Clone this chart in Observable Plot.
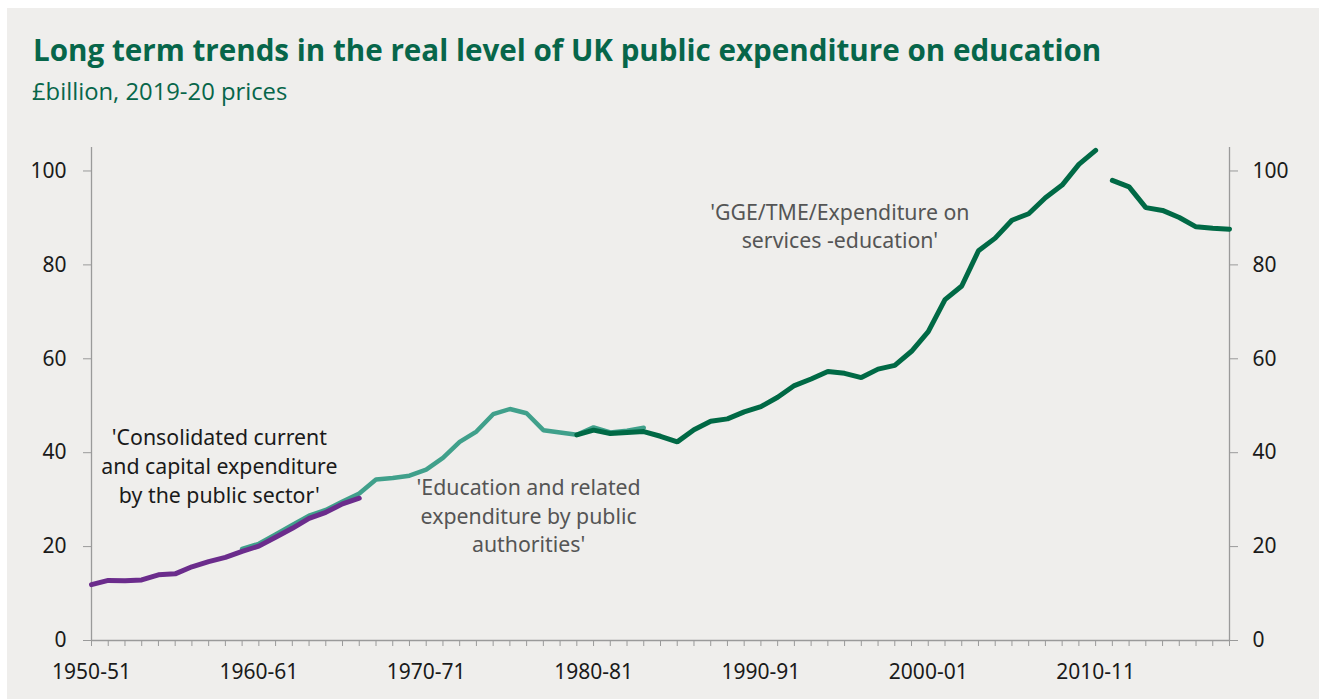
<!DOCTYPE html>
<html>
<head>
<meta charset="utf-8">
<script src="https://cdn.jsdelivr.net/npm/d3@7"></script>
<script src="https://cdn.jsdelivr.net/npm/@observablehq/plot@0.6"></script>
<style>
  html, body { margin: 0; padding: 0; background: #ffffff; width: 1319px; height: 699px; overflow: hidden; }
  #panel { position: absolute; left: 7px; top: 8px; width: 1312px; height: 691px; background: #efeeec; }
  #title { position: absolute; left: 33px; top: 29px; margin: 0; font-family: "Open Sans", sans-serif; font-weight: 700; font-size: 29.6px; color: #07664a; white-space: nowrap; }
  #subtitle { position: absolute; left: 32px; top: 75px; margin: 0; font-family: "Open Sans", sans-serif; font-weight: 400; font-size: 23.8px; color: #07664a; white-space: nowrap; }
  #chart { position: absolute; left: 0; top: 130px; }
</style>
</head>
<body>
<div id="panel"></div>
<div id="title">Long term trends in the real level of UK public expenditure on education</div>
<div id="subtitle">£billion, 2019-20 prices</div>
<div id="chart"></div>
<script>
// Categories (financial years)
const years = [
  "1950-51","1951-52","1952-53","1953-54","1954-55","1955-56","1956-57","1957-58","1958-59","1959-60",
  "1960-61","1961-62","1962-63","1963-64","1964-65","1965-66","1966-67","1967-68","1968-69","1969-70",
  "1970-71","1971-72","1972-73","1973-74","1974-75","1975-76","1976-77","1977-78","1978-79","1979-80",
  "1980-81","1981-82","1982-83","1983-84","1984-85","1985-86","1986-87","1987-88","1988-89","1989-90",
  "1990-91","1991-92","1992-93","1993-94","1994-95","1995-96","1996-97","1997-98","1998-99","1999-00",
  "2000-01","2001-02","2002-03","2003-04","2004-05","2005-06","2006-07","2007-08","2008-09","2009-10",
  "2010-11","2011-12","2012-13","2013-14","2014-15","2015-16","2016-17","2017-18","2018-19"
];
const tickLabels = ["1950-51","1960-61","1970-71","1980-81","1990-91","2000-01","2010-11"];
const yTicks = [0, 20, 40, 60, 80, 100];

// 'Consolidated current and capital expenditure by the public sector' (1950-51 to 1966-67)
const consolidatedYears = years.slice(0, 17);
const consolidated = [11.9,12.8,12.7,12.9,14.0,14.2,15.7,16.8,17.7,19.0,20.1,22.0,23.9,26.0,27.3,29.1,30.3];

// 'Education and related expenditure by public authorities' (1959-60 to 1983-84)
const educationYears = years.slice(9, 34);
const education = [19.5,20.6,22.6,24.6,26.6,27.8,29.6,31.3,34.3,34.6,35.1,36.4,38.9,42.3,44.5,48.2,49.3,48.4,44.8,44.3,43.8,45.4,44.3,44.7,45.3];

// 'GGE/TME/Expenditure on services -education' (1979-80 to 2010-11, then 2011-12 to 2018-19)
const ggeYearsA = years.slice(29, 61);
const ggeA = [43.8,44.8,44.1,44.3,44.5,43.5,42.3,44.9,46.7,47.2,48.7,49.8,51.8,54.3,55.7,57.3,56.9,56.0,57.8,58.6,61.6,65.8,72.6,75.5,83.0,85.7,89.5,90.9,94.3,97.0,101.4,104.4];
const ggeYearsB = years.slice(61, 69);
const ggeB = [98.0,96.6,92.2,91.6,90.1,88.1,87.8,87.6];

// Annotation labels
const annoText = [
  "'Consolidated current\nand capital expenditure\nby the public sector'",
  "'Education and related\nexpenditure by public\nauthorities'",
  "'GGE/TME/Expenditure on\nservices -education'"
];
const annoYear = ["1958-59", "1976-77", "1994-95"];
const annoValue = [37.4, 26.8, 88.5];

const toRows = (ys, vs) => ys.map((y, i) => ({year: y, value: vs[i]}));
const rowsCons = toRows(consolidatedYears, consolidated);
const rowsEdu = toRows(educationYears, education);
const rowsA = toRows(ggeYearsA, ggeA);
const rowsB = toRows(ggeYearsB, ggeB);
const annos = annoText.map((t, i) => ({text: t, year: annoYear[i], value: annoValue[i]}));

const axisColor = "#9a9a9a";
const first = years[0], last = years[years.length - 1];
const annoStyle = { x: "year", y: "value", text: "text", fontSize: 21.3, lineHeight: 1.34, textAnchor: "middle" };

const chart = Plot.plot({
  width: 1319,
  height: 569,
  marginTop: 17,
  marginBottom: 59,
  marginLeft: 91,
  marginRight: 90,
  style: { background: "transparent", fontFamily: "'Noto Sans', 'Open Sans', sans-serif", overflow: "visible" },
  x: { type: "point", domain: years, padding: 0 },
  y: { domain: [0, 105] },
  marks: [
    // axis lines
    Plot.ruleY([0], { stroke: axisColor, strokeWidth: 1.3 }),
    Plot.ruleX([first], { y1: 0, y2: 105, stroke: axisColor, strokeWidth: 1.3 }),
    Plot.ruleX([last], { y1: 0, y2: 105, stroke: axisColor, strokeWidth: 1.3 }),
    // x axis: yearly ticks, labels every decade
    Plot.axisX({
      ticks: years, tickSize: 6, tickPadding: 18, stroke: axisColor,
      tickFormat: d => tickLabels.includes(d) ? d : "",
      fontSize: 21, fill: "#1a1a1a", label: null
    }),
    // y axes
    Plot.axisY({ anchor: "left", ticks: yTicks, tickSize: 8, tickPadding: 17, stroke: axisColor, fontSize: 21, fill: "#1a1a1a", label: null }),
    Plot.axisY({ anchor: "right", ticks: yTicks, tickSize: 8, tickPadding: 15, stroke: axisColor, fontSize: 21, fill: "#1a1a1a", label: null }),
    // series
    Plot.line(rowsEdu, { x: "year", y: "value", stroke: "#40a08b", strokeWidth: 4.5, strokeLinejoin: "miter" }),
    Plot.line(rowsCons, { x: "year", y: "value", stroke: "#6b2c8c", strokeWidth: 5, strokeLinejoin: "miter" }),
    Plot.line(rowsA, { x: "year", y: "value", stroke: "#006945", strokeWidth: 5, strokeLinejoin: "miter" }),
    Plot.line(rowsB, { x: "year", y: "value", stroke: "#006945", strokeWidth: 5, strokeLinejoin: "miter" }),
    // annotations
    Plot.text([annos[0]], { ...annoStyle, dx: -6, fill: "#1a1a1a" }),
    Plot.text([annos[1]], { ...annoStyle, dx: 2, fill: "#555555" }),
    Plot.text([annos[2]], { ...annoStyle, dx: 12, fill: "#555555" })
  ]
});
document.getElementById("chart").appendChild(chart);
</script>
</body>
</html>
